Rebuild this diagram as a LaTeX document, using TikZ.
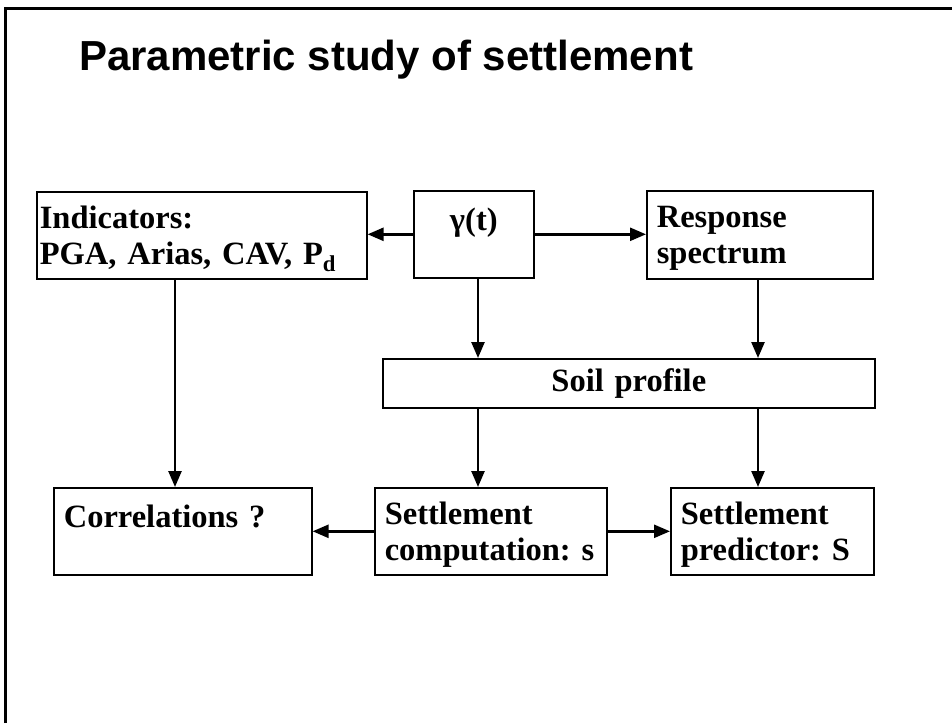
\documentclass[tikz,border=0pt]{standalone}
\usepackage{fontspec}
\setmainfont{Liberation Serif}
\newfontfamily\titlefont{Liberation Sans}
\usetikzlibrary{arrows.meta,calc}
\frenchspacing

\tikzset{
  box/.style={draw, line width=1.6pt, anchor=north west, inner xsep=10pt, inner ysep=0pt,
              minimum height=87pt, align=left,
              font=\bfseries\fontsize{32.5}{36}\selectfont},
  flow/.style={line width=2.5pt, -{Triangle[length=16pt,width=13pt]}},
  frameline/.style={line width=3pt}
}

\begin{document}
\begin{tikzpicture}[x=1pt,y=-1pt]
  \useasboundingbox (0,0) rectangle (952,723);

  % slide frame (top and left edges)
  \draw[frameline] (5.5,723) -- (5.5,8.5) -- (952,8.5);

  % title
  \node[anchor=base west, inner sep=0pt, font=\titlefont\bfseries\fontsize{42}{48}\selectfont]
    (title) at (79,70) {Parametric study of settlement};

  % boxes
  \node[box, inner xsep=3pt, text width=324pt] (ind) at (36,191)
    {\rule{0pt}{29pt}Indicators:\\\mbox{PGA, Arias, CAV, P\textsubscript{d}}};
  \node[box, text width=100pt, align=center] (gam) at (413,190)
    {\rule{0pt}{29pt}γ(t)\\~};
  \node[box, text width=206pt, minimum height=88pt] (resp) at (646,190)
    {\rule{0pt}{29pt}Response\\spectrum};
  \node[box, text width=472pt, minimum height=49pt, align=center] (soil) at (382,358)
    {Soil profile};
  \node[box, text width=238pt] (corr) at (53,487)
    {\rule{0pt}{29pt}Correlations ?\\~};
  \node[box, text width=212pt] (comp) at (374,487)
    {\rule{0pt}{29pt}Settlement\\computation: s};
  \node[box, text width=183pt] (pred) at (670,487)
    {\rule{0pt}{29pt}Settlement\\predictor: S};

  % x positions of the vertical connectors
  \coordinate (xa) at (175,0);
  \coordinate (xb) at (478,0);
  \coordinate (xc) at (758,0);

  % connectors
  \draw[flow] (gam.west) -- (gam.west -| ind.east);
  \draw[flow] (gam.east) -- (gam.east -| resp.west);
  \draw[flow] (xb |- gam.south) -- (xb |- soil.north);
  \draw[flow] (xc |- resp.south) -- (xc |- soil.north);
  \draw[flow] (xb |- soil.south) -- (xb |- comp.north);
  \draw[flow] (xc |- soil.south) -- (xc |- pred.north);
  \draw[flow] (xa |- ind.south) -- (xa |- corr.north);
  \draw[flow] (comp.west) -- (comp.west -| corr.east);
  \draw[flow] (comp.east) -- (comp.east -| pred.west);
\end{tikzpicture}
\end{document}
